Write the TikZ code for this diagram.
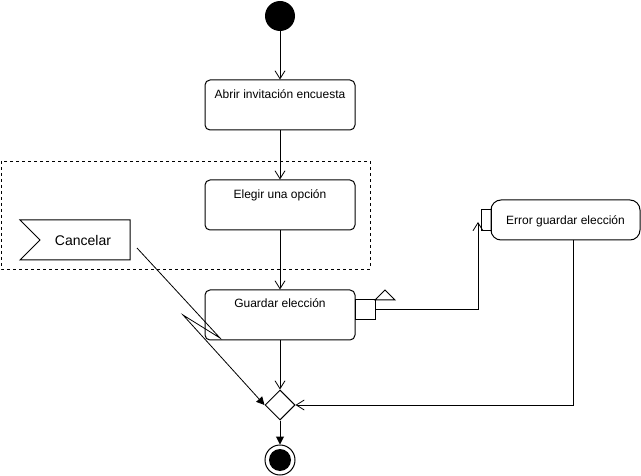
\documentclass[tikz,border=0pt]{standalone}
\usepackage{fontspec}
\setmainfont{Liberation Sans}
\usetikzlibrary{shapes.geometric,arrows.meta,calc}
\begin{document}
\begin{tikzpicture}[x=1pt,y=-1pt,line width=1pt,
  act/.style={draw, rounded corners=5pt, minimum width=150pt, minimum height=50pt, inner sep=0pt},
  openarr/.style={-{Straight Barb[length=8pt,width=10pt,line width=0.8pt]}},
  fillarr/.style={-{Triangle[length=8pt,width=8pt]}},
  lbl/.style={font=\fontsize{12}{14}\selectfont},
  toplbl/.style={lbl, anchor=base, inner sep=0pt}
]
\useasboundingbox (0,0) rectangle (641,476);
% dashed region
\draw[dashed, line width=0.8pt] (1,161) rectangle (370,269);
% start
\node[circle, fill=black, minimum size=30pt, inner sep=0pt] (start) at (280,16) {};
% activities
\node[act] (abrir) at (280,105) {};
\node[toplbl] at ($(abrir.north)+(0,19)$) {Abrir invitación encuesta};
\node[act] (elegir) at (280,205) {};
\node[toplbl] at ($(elegir.north)+(0,19)$) {Elegir una opción};
\node[act] (guardar) at (280,315) {};
\node[toplbl] at ($(guardar.north)+(0,18.5)$) {Guardar elección};
% error box
\node[draw, rounded corners=10pt, minimum width=149pt, minimum height=40pt, inner sep=0pt, lbl, text height=9pt, text depth=0pt] (error) at (565.5,220) {Error guardar elección};
% receive port
\node[draw, minimum width=10pt, minimum height=21pt, inner sep=0pt] (recv) at (486,220.5) {};
% send port
\node[draw, minimum width=20pt, minimum height=20pt, inner sep=0pt] (send) at (365,310) {};
\draw (375,300) -- (395,300) -- (385,290) -- cycle;
% cancel flag
\draw (20,220) -- (130,220) -- (130,260) -- (20,260) -- (40,240) -- cycle;
\node[font=\fontsize{14}{16}\selectfont] (cancel) at (83,240) {Cancelar};
% decision
\node[draw, diamond, aspect=1, minimum width=30pt, minimum height=30pt, inner sep=0pt] (dec) at (280,405) {};
% end
\node[circle, draw, minimum size=30pt, inner sep=0pt] (end) at (280,460) {};
\node[circle, fill=black, minimum size=22pt, inner sep=0pt] (endin) at (280,460) {};
% connectors
\draw[openarr] (start) -- (abrir);
\draw[openarr] (abrir) -- (elegir);
\draw[openarr] (elegir) -- (guardar);
\draw[openarr] (guardar) -- (dec);
\draw[fillarr] (dec) -- (end);
\coordinate (rcv) at (478,222);
\draw[openarr] (send.east) -| (rcv);
\coordinate (eb) at (573,240);
\draw[openarr] (eb) |- (dec.east);
\coordinate (cs) at (137,248);
\coordinate (z1) at (220,338);
\coordinate (z2) at (183,315);
\draw[line width=0.8pt, fillarr] (cs) -- (z1) -- (z2) -- (dec.west);
\end{tikzpicture}
\end{document}
